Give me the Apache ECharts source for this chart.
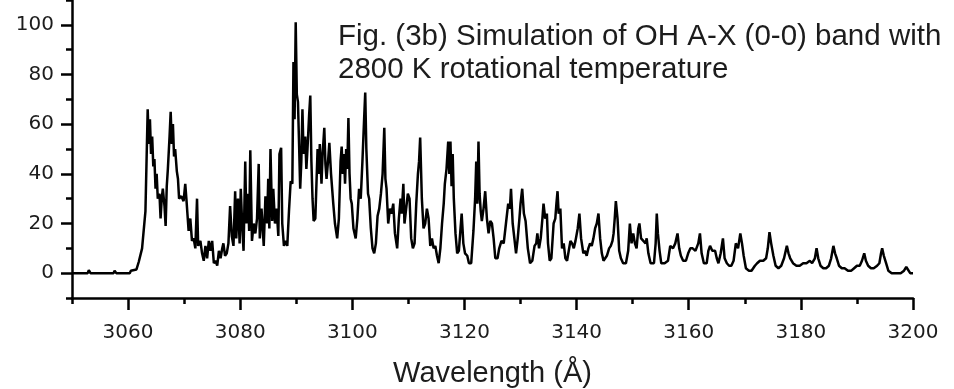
<!DOCTYPE html>
<html><head><meta charset="utf-8">
<script src="https://cdn.jsdelivr.net/npm/echarts@6/dist/echarts.min.js"></script>
<style>html,body{margin:0;padding:0;background:#fff;}#c{width:954px;height:389px;}</style>
</head><body><div id="c"></div>
<script>
const wavelength = [
3050,3052.8,3053.0,3053.3,3057.4,3057.6,3057.9,3060.3,3060.5,3061.5,3061.9,3062.5,3063.1,3063.5,
3063.7,3063.9,3064.1,3064.3,3064.5,3064.7,3064.9,3065.1,3065.3,3065.6,3065.8,3066.0,3066.2,3066.5,3066.7,3066.9,
3067.1,3067.4,3067.6,3067.8,3068.0,3068.2,3068.4,3068.7,3068.9,3069.1,3069.5,3069.9,3070.2,3070.4,3070.8,3071.1,
3071.4,3071.7,3072.0,3072.3,3072.5,3072.9,3073.2,3073.5,3073.8,3074.1,3074.4,3074.7,3075.0,3075.3,3075.6,3075.9,
3076.2,3076.5,3076.8,3077.0,3077.3,3077.6,3077.9,3078.2,3078.5,3078.8,3079.1,3079.3,3079.6,3079.9,3080.1,3080.4,
3080.6,3080.9,3081.1,3081.4,3081.6,3081.8,3082.1,3082.4,3082.7,3083.0,3083.3,3083.5,3083.8,3084.2,3084.5,3084.8,
3085.0,3085.2,3085.4,3085.7,3085.9,3086.2,3086.5,3086.8,3087.0,3087.3,3087.5,3087.8,3088.1,3088.4,3088.7,3089.0,
3089.3,3089.5,3089.7,3089.9,
3090.1,3090.3,3090.5,3090.7,3090.9,3091.1,3091.3,3091.6,3091.8,3092.0,3092.3,3092.5,3092.7,3092.9,3093.1,3093.4,
3093.6,3093.8,3094.0,3094.2,3094.5,3094.7,3095.0,3095.2,3095.4,3095.7,3095.9,3096.2,3096.6,3096.9,3097.3,3097.6,
3097.9,3098.1,3098.3,3098.5,3098.7,3098.9,3099.1,3099.3,3099.5,3099.7,3099.9,3100.2,3100.6,3100.9,3101.2,3101.5,
3101.8,3102.1,3102.3,3102.5,3102.8,3103.0,3103.3,3103.6,3103.9,3104.2,3104.5,3104.8,3105.1,3105.4,3105.7,3105.9,
3106.1,3106.4,3106.7,3107.0,3107.3,3107.6,3108.0,3108.3,3108.6,3108.8,3109.1,3109.3,3109.6,3109.9,3110.2,3110.5,
3110.8,3111.1,3111.4,3111.7,3111.9,3112.1,3112.4,3112.7,3113.0,3113.3,3113.6,3113.9,3114.2,3114.5,3114.8,3115.1,
3115.4,3115.7,3116.0,3116.3,3116.5,3116.8,3117.1,3117.3,
3117.5,3117.7,3117.9,3118.1,3118.4,3118.7,3119.0,3119.3,3119.5,3119.8,3120.1,3120.5,3120.8,3121.2,3121.6,3121.9,
3122.1,3122.3,3122.5,3122.7,3122.9,3123.1,3123.4,3123.7,3124.0,3124.3,3124.6,3124.9,3125.2,3125.5,3125.9,3126.2,
3126.6,3127.0,3127.4,3127.8,3128.1,3128.3,3128.6,3128.9,3129.2,3129.5,3129.8,3130.0,3130.3,3130.6,3130.9,3131.3,
3131.7,3132.1,3132.5,3132.8,3133.0,3133.3,3133.6,3133.9,3134.1,3134.4,3134.7,3134.9,3135.2,3135.5,3135.9,3136.2,
3136.4,3136.6,3136.8,3137.1,3137.4,3137.7,3138.0,3138.3,3138.6,3138.9,3139.2,3139.5,3139.8,3140.2,3140.5,3140.8,
3141.2,3141.5,3141.8,3142.1,3142.4,3142.7,3143.0,3143.3,3143.6,3143.9,3144.2,3144.5,3144.8,3145.1,3145.4,3145.8,
3146.1,3146.4,3146.6,3146.8,3147.0,
3147.3,3147.6,3147.9,3148.3,3148.8,3149.2,3149.5,3149.8,3150.1,3150.4,3150.7,3151.0,3151.2,3151.5,3151.9,3152.3,
3152.5,3152.8,3153.2,3153.8,3154.1,3154.3,3154.5,3154.8,3155.1,3155.7,3156.3,3156.7,3157.2,3157.6,3158.0,3158.3,
3158.6,3159.0,3159.5,3159.9,3160.3,3160.7,3161.2,3161.7,3162.0,3162.3,3162.7,3163.2,3163.5,3163.8,3164.2,3164.7,
3165.0,3165.3,3165.7,3166.1,3166.4,3166.8,3167.2,3167.6,3168.0,3168.4,3168.8,3169.2,3169.5,3169.8,3170.2,3170.7,
3171.2,3171.8,3172.2,3172.7,3173.3,3173.8,3174.1,3174.4,3174.7,3175.1,3175.5,3176.0,3176.5,3177.0,3177.5,3177.8,
3178.1,3178.6,3179.2,3179.8,3180.4,3181.0,3181.6,3182.0,3182.5,3182.8,3183.1,3183.5,3184.0,3184.5,3185.0,3185.4,
3185.8,3186.1,3186.4,3186.8,3187.3,3187.8,3188.4,3189.0,3189.5,3190.0,3190.5,3190.9,3191.3,3191.6,3192.0,3192.5,
3193.0,3193.6,3194.0,3194.3,3194.5,3194.8,3195.2,3195.6,3196.2,3197.0,3197.8,3198.4,3198.8,3199.1,3199.5,3200.0
];
const intensity = [
0,0,1.2,0,0,1,0,0,1,1.5,4.5,10,25,66,
52,62,48,55,43,46,34,40,30,32,22,30,34,27,19,35,
42,55,65,52,60,47,50,41,38,30,31,29,36,30,17,22,
13,14,10,30,11,13,8,5,11,6,13,9,13,4,5,3,
9,6,10,12,7,8,12,27,15,11,33,14,30,12,34,17,
9,45,20,32,17,49.5,13,20,16,22,44,14,26,11,31,20,
38,18,50,21,34,20,26,15,48,50.5,20,11,13,11,25,37,
36,85,62,101,
72,69,52,34,45,66,48,55,42,50,64,71.5,45,30,21,22,
36,50,40,52,36,48,58.5,44,38,46,52.5,40,28,20,14,22,
45,51,40,48,36,50,42,62.5,40,30,28,18,14,22,34,30,
45,62,72.7,50,32,30,18,10,8,12,23,26,32,40,58.5,38,
34,20,26,24,28,16,10,22,30,24,36,20,26,32,30,14,
10,12,28,40,45,54.6,30,18,20,26,22,11,14,10,11,7,
4,10,20,28,36,42,53,40,
53,35,48,30,16,8,9,18,24,12,8,7,4,4,17,30,
45,28,53,32,25,21,26,33,22,16,21,20,14,6,6,10,
13,12,20,28,26,34,20,14,8,14,22,28,34,24,21,10,
4,5,11,12,16,10,14,22,28,22,24,12,5,6,20,22,
28,33,24,26,10,12,6,5,9,13,12,10,13,18,24,14,
8,9,7,10,12,11,14,18,20,24,14,8,5,6,7,10,
11,13,16,22,29,
22,9,6,4,4,9,20,12,16,12,10,18,20,14,13,12,
14,8,4,4,12,24,16,9,4,4,5,11,10,12,16,10,
7,5,5,8,10,10,9,12,16,8,4,4,9,11,9,9,
6,4,8,14,6,4,3,3,5,12,10,16,12,7,2,1,
1,3,4,5,5,6,10,16.5,12,7,3,2,3,6,11,8,
6,4,3,3,4,4,5,4,6,10,6,3,2,2,3,6,
11,8,6,3,2,2,1,1,2,3,3,5,8,5,3,2,
2,3,4,8,10,7,4,1,0,0,0,1,2.5,2,0,0
];
const xTickValues = [3050,3060,3070,3080,3090,3100,3110,3120,3130,3140,3150,3160,3170,3180,3190,3200];
const xLabelValues = [3060,3080,3100,3120,3140,3160,3180,3200];
const yTickValues = [-10,0,10,20,30,40,50,60,70,80,90,100,110];
const yLabelValues = [0,20,40,60,80,100];
const xAxisTitle = 'Wavelength (\u00C5)';
const noteLines = ['Fig. (3b) Simulation of OH A-X (0-0) band with', '2800 K rotational temperature'];

const ink = '#000';
const textInk = '#1c1c1c';
const tickFont = 'DejaVu Sans';
const bigFont = '"Liberation Sans", Arial, sans-serif';

const chart = echarts.init(document.getElementById('c'), null, {renderer: 'canvas'});
chart.setOption({
  animation: false,
  backgroundColor: '#fff',
  grid: {left: 72, right: 41, top: 0, bottom: 91, containLabel: false, outerBoundsMode: 'none'},
  xAxis: [
    {
      type: 'value', min: xTickValues[0], max: xTickValues[xTickValues.length - 1], interval: 10,
      position: 'bottom',
      axisLine: {show: true, onZero: false, lineStyle: {color: ink, width: 2.5}},
      axisTick: {show: true, length: 6, lineStyle: {color: ink, width: 2.5}},
      axisLabel: {show: false},
      splitLine: {show: false},
      name: xAxisTitle, nameLocation: 'middle', nameGap: 61,
      nameTextStyle: {fontSize: 29, fontFamily: bigFont, color: textInk}
    },
    {
      type: 'category', data: xTickValues.map(String), boundaryGap: false, position: 'bottom',
      axisLine: {show: false, onZero: false},
      axisTick: {show: true, length: 12, interval: (i, v) => xLabelValues.indexOf(+v) >= 0, lineStyle: {color: ink, width: 2.5}},
      axisLabel: {interval: (i, v) => xLabelValues.indexOf(+v) >= 0, margin: 25, fontSize: 20, fontFamily: tickFont, color: textInk},
      splitLine: {show: false}
    }
  ],
  yAxis: [
    {
      type: 'value', min: yTickValues[0], max: yTickValues[yTickValues.length - 1], interval: 10,
      position: 'left',
      axisLine: {show: true, onZero: false, lineStyle: {color: ink, width: 2.5}},
      axisTick: {show: true, length: 6, lineStyle: {color: ink, width: 2.5}},
      axisLabel: {show: false},
      splitLine: {show: false}
    },
    {
      type: 'category', data: yTickValues.map(String), boundaryGap: false, position: 'left',
      axisLine: {show: false, onZero: false},
      axisTick: {show: true, length: 11, interval: (i, v) => yLabelValues.indexOf(+v) >= 0, lineStyle: {color: ink, width: 2.5}},
      axisLabel: {interval: (i, v) => yLabelValues.indexOf(+v) >= 0, margin: 18, fontSize: 20, fontFamily: tickFont, color: textInk},
      splitLine: {show: false}
    }
  ],
  graphic: noteLines.map((t, i) => ({
    type: 'text', left: 338, top: 22 + i * 33, silent: true,
    style: {text: t, font: '29.5px ' + bigFont, fill: textInk}
  })),
  series: [{
    type: 'line', xAxisIndex: 0, yAxisIndex: 0,
    data: wavelength.map((w, i) => [w, intensity[i]]),
    showSymbol: false, symbol: 'none', silent: true,
    lineStyle: {color: ink, width: 2.5},
    clip: false
  }]
});
</script></body></html>
